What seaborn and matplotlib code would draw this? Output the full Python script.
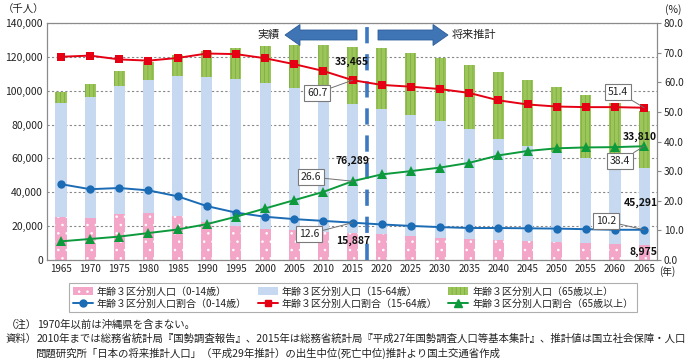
import numpy as np
import pandas as pd
import matplotlib
matplotlib.use("Agg")
import matplotlib.pyplot as plt
import matplotlib.transforms as mtransforms
from matplotlib.patches import Patch, FancyArrow
from matplotlib.lines import Line2D
import seaborn as sns

# ---------------- data ----------------
years = [1965, 1970, 1975, 1980, 1985, 1990, 1995, 2000, 2005, 2010, 2015,
         2020, 2025, 2030, 2035, 2040, 2045, 2050, 2055, 2060, 2065]
pop_0_14 = [25529, 24823, 27221, 27507, 26033, 22486, 20014, 18472, 17521, 16803, 15887,
            15075, 14073, 13212, 12457, 11936, 11384, 10767, 10123, 9508, 8975]
pop_15_64 = [67444, 71566, 75807, 78835, 82506, 85904, 87165, 86220, 84092, 81032, 76289,
             74058, 71701, 68754, 64942, 59777, 55845, 52750, 50276, 47928, 45291]
pop_65 = [6236, 7331, 8865, 10647, 12468, 14895, 18261, 22005, 25672, 29246, 33465,
          36192, 36771, 37160, 37817, 39206, 39192, 38406, 37042, 35403, 33810]
ratio_0_14 = [25.6, 23.9, 24.3, 23.5, 21.5, 18.2, 16.0, 14.6, 13.8, 13.2, 12.6,
              12.0, 11.5, 11.1, 10.8, 10.8, 10.7, 10.6, 10.4, 10.2, 10.2]
ratio_15_64 = [68.6, 69.0, 67.7, 67.3, 68.2, 69.7, 69.5, 68.1, 66.1, 63.8, 60.7,
               59.1, 58.5, 57.7, 56.4, 53.9, 52.5, 51.8, 51.6, 51.6, 51.4]
ratio_65 = [6.3, 7.1, 7.9, 9.1, 10.3, 12.1, 14.6, 17.4, 20.2, 23.0, 26.6,
            28.9, 30.0, 31.2, 32.8, 35.3, 36.8, 37.7, 38.0, 38.1, 38.4]
left_ticks = [0, 20000, 40000, 60000, 80000, 100000, 120000, 140000]
right_ticks = [0, 10, 20, 30, 40, 50, 60, 70, 80]
series_names = ["年齢３区分別人口（0-14歳）", "年齢３区分別人口（15-64歳）", "年齢３区分別人口（65歳以上）",
                "年齢３区分別人口割合（0-14歳）", "年齢３区分別人口割合（15-64歳）", "年齢３区分別人口割合（65歳以上）"]

# ---------------- style ----------------
sns.set_theme(style="white")
plt.rcParams["font.family"] = ["Noto Sans CJK JP", "DejaVu Sans"]
plt.rcParams["hatch.linewidth"] = 0.6

PINK = "#f3a6c8"
LBLUE = "#c6d9f1"
GREEN = "#9cc65a"
GSTRIPE = "#7fae44"
BLUE = "#1b6cb5"
RED = "#e50014"
DGREEN = "#0c9a3c"
TXT = "#222222"
SPINE = "#8a8a8a"

W, H = 689, 363
fig = plt.figure(figsize=(W / 100, H / 100), dpi=100)
PX = mtransforms.Affine2D().scale(1, -1).translate(0, H)  # reference pixel coords (top-left origin)

ax = fig.add_axes([47 / W, 1 - 260 / H, (657 - 47) / W, (260 - 23) / H])

df = pd.DataFrame({"year": years, "p0": pop_0_14, "p1": pop_15_64, "p2": pop_65})
b1 = np.array(pop_0_14)
b2 = np.array(pop_0_14) + np.array(pop_15_64)

bw = 0.38
sns.barplot(data=df, x="year", y="p0", native_scale=True, width=bw, color=PINK, saturation=1,
            errorbar=None, hatch="..", edgecolor="white", linewidth=0, ax=ax, zorder=2)
sns.barplot(data=df, x="year", y="p1", native_scale=True, width=bw, color=LBLUE, saturation=1,
            errorbar=None, bottom=b1, linewidth=0, ax=ax, zorder=2)
sns.barplot(data=df, x="year", y="p2", native_scale=True, width=bw, color=GREEN, saturation=1,
            errorbar=None, bottom=b2, hatch="||||", edgecolor=GSTRIPE, linewidth=0, ax=ax, zorder=2)

ax.set_xlim(1962.6, 2067.2)
ax.set_ylim(0, 140000)
ax.set_yticks(left_ticks)
ax.set_yticklabels([f"{v:,}" for v in left_ticks], fontsize=7.5, color=TXT)
ax.set_xticks(years)
ax.set_xticklabels([str(y) for y in years], fontsize=7.1, color=TXT)
ax.set_xticks([y + 2.5 for y in years[:-1]], minor=True)
ax.tick_params(axis="x", which="major", length=0, pad=3)
ax.tick_params(axis="x", which="minor", length=3, direction="in", color=SPINE, width=0.7)
ax.tick_params(axis="y", length=0, pad=3)
ax.set_xlabel("")
ax.set_ylabel("")
ax.yaxis.grid(True, linestyle=(0, (2, 2)), color="#888888", linewidth=0.8)
ax.set_axisbelow(True)
for s in ax.spines.values():
    s.set_color(SPINE)
    s.set_linewidth(0.8)

# dashed divider between actual and projection
ax.axvline(2017.5, color="#3d78c2", lw=2.6, ls=(0, (4.5, 3)), zorder=3)

# ratios on right axis
ax2 = ax.twinx()
sns.lineplot(x=years, y=ratio_0_14, ax=ax2, color=BLUE, lw=1.4, marker="o", markersize=6,
             markeredgecolor=BLUE, markeredgewidth=0)
sns.lineplot(x=years, y=ratio_15_64, ax=ax2, color=RED, lw=1.4, marker="s", markersize=5.5,
             markeredgecolor=RED, markeredgewidth=0)
sns.lineplot(x=years, y=ratio_65, ax=ax2, color=DGREEN, lw=1.4, marker="^", markersize=6.5,
             markeredgecolor=DGREEN, markeredgewidth=0)
ax2.set_ylim(0, 80)
ax2.set_yticks(right_ticks)
ax2.set_yticklabels([f"{v:.1f}" for v in right_ticks], fontsize=7.3, color=TXT)
ax2.tick_params(axis="y", length=3, width=0.8, color=SPINE, pad=2)
ax2.set_ylabel("")
ax2.grid(False)
for s in ax2.spines.values():
    s.set_color(SPINE)
    s.set_linewidth(0.8)
ax2.set_xlim(1962.6, 2067.2)

# unit labels
fig.text(24, 10, "（千人）", transform=PX, ha="center", va="center", fontsize=7.5, color=TXT)
fig.text(673, 10, "(%)", transform=PX, ha="center", va="center", fontsize=7.5, color=TXT)
fig.text(659, 272, "(年)", transform=PX, ha="left", va="center", fontsize=7.0, color=TXT)

# arrows
fig.patches.append(FancyArrow(357, 35, -72, 0, width=10, head_width=21, head_length=15,
                              length_includes_head=True, transform=PX, fc="#3f74b5",
                              ec="#2d5d96", lw=0.6, figure=fig))
fig.patches.append(FancyArrow(378, 35, 70, 0, width=10, head_width=21, head_length=15,
                              length_includes_head=True, transform=PX, fc="#3f74b5",
                              ec="#2d5d96", lw=0.6, figure=fig))
fig.text(269, 35, "実績", transform=PX, ha="center", va="center", fontsize=8, color=TXT)
fig.text(452, 35, "将来推計", transform=PX, ha="left", va="center", fontsize=8, color=TXT)

# value labels (bold numbers)
i15, i65 = years.index(2015), years.index(2065)
for txt, (x, y) in [(f"{pop_65[i15]:,}", (352, 62)), (f"{pop_15_64[i15]:,}", (352, 161)),
                    (f"{pop_0_14[i15]:,}", (353, 241)), (f"{pop_65[i65]:,}", (640, 137)),
                    (f"{pop_15_64[i65]:,}", (641, 203)), (f"{pop_0_14[i65]:,}", (643, 252))]:
    fig.text(x, y, txt, transform=PX, ha="center", va="center", fontsize=7.5,
             fontweight="bold", color="#111111", zorder=10)

# boxed ratio labels with leader lines
box = dict(boxstyle="square,pad=0.3", fc="white", ec="#7a7a7a", lw=0.8)
arr = dict(arrowstyle="-", color="#707070", lw=0.7, shrinkA=0, shrinkB=0)
for yr, val, (x, y) in [(2015, ratio_15_64[i15], (317, 93)), (2015, ratio_65[i15], (311, 177)),
                        (2015, ratio_0_14[i15], (309, 234)), (2065, ratio_15_64[i65], (618, 92)),
                        (2065, ratio_65[i65], (620, 161)), (2065, ratio_0_14[i65], (606, 221))]:
    ax2.annotate(f"{val:.1f}", xy=(yr, val), xycoords="data", xytext=(x, y), textcoords=PX,
                 ha="center", va="center", fontsize=7.5, color=TXT, bbox=box, arrowprops=arr,
                 zorder=9, annotation_clip=False)

# legend
handles = [
    Patch(facecolor=PINK, edgecolor="white", hatch="..", lw=0),
    Line2D([], [], color=BLUE, marker="o", markersize=5, lw=1.4),
    Patch(facecolor=LBLUE, edgecolor=LBLUE, lw=0),
    Line2D([], [], color=RED, marker="s", markersize=4.5, lw=1.4),
    Patch(facecolor=GREEN, edgecolor=GSTRIPE, hatch="||||", lw=0),
    Line2D([], [], color=DGREEN, marker="^", markersize=5.5, lw=1.4),
]
labels = [series_names[0], series_names[3], series_names[1], series_names[4],
          series_names[2], series_names[5]]
leg = fig.legend(handles, labels, ncol=3, loc="upper left", bbox_to_anchor=(69, 283),
                 bbox_transform=PX, fontsize=7.2, frameon=True, fancybox=False,
                 borderaxespad=0, borderpad=0.35, handlelength=2.0, handleheight=0.8,
                 handletextpad=0.4, columnspacing=1.1, labelspacing=0.2)
leg.get_frame().set_edgecolor("#9a9a9a")
leg.get_frame().set_linewidth(0.8)
for t in leg.get_texts():
    t.set_color(TXT)

# notes
fs = 7.5
fig.text(6, 325, "（注）", transform=PX, ha="left", va="center", fontsize=fs, color=TXT)
fig.text(37, 325, "1970年以前は沖縄県を含まない。", transform=PX, ha="left", va="center",
         fontsize=fs, color=TXT)
fig.text(6, 339, "資料）", transform=PX, ha="left", va="center", fontsize=fs, color=TXT)
fig.text(37, 339, "2010年までは総務省統計局『国勢調査報告』、2015年は総務省統計局『平成27年国勢調査人口等基本集計』、推計値は国立社会保障・人口",
         transform=PX, ha="left", va="center", fontsize=fs, color=TXT)
fig.text(35, 353, "問題研究所「日本の将来推計人口」（平成29年推計）の出生中位(死亡中位)推計より国土交通省作成",
         transform=PX, ha="left", va="center", fontsize=fs, color=TXT)

fig.savefig("out.png", dpi=100)
